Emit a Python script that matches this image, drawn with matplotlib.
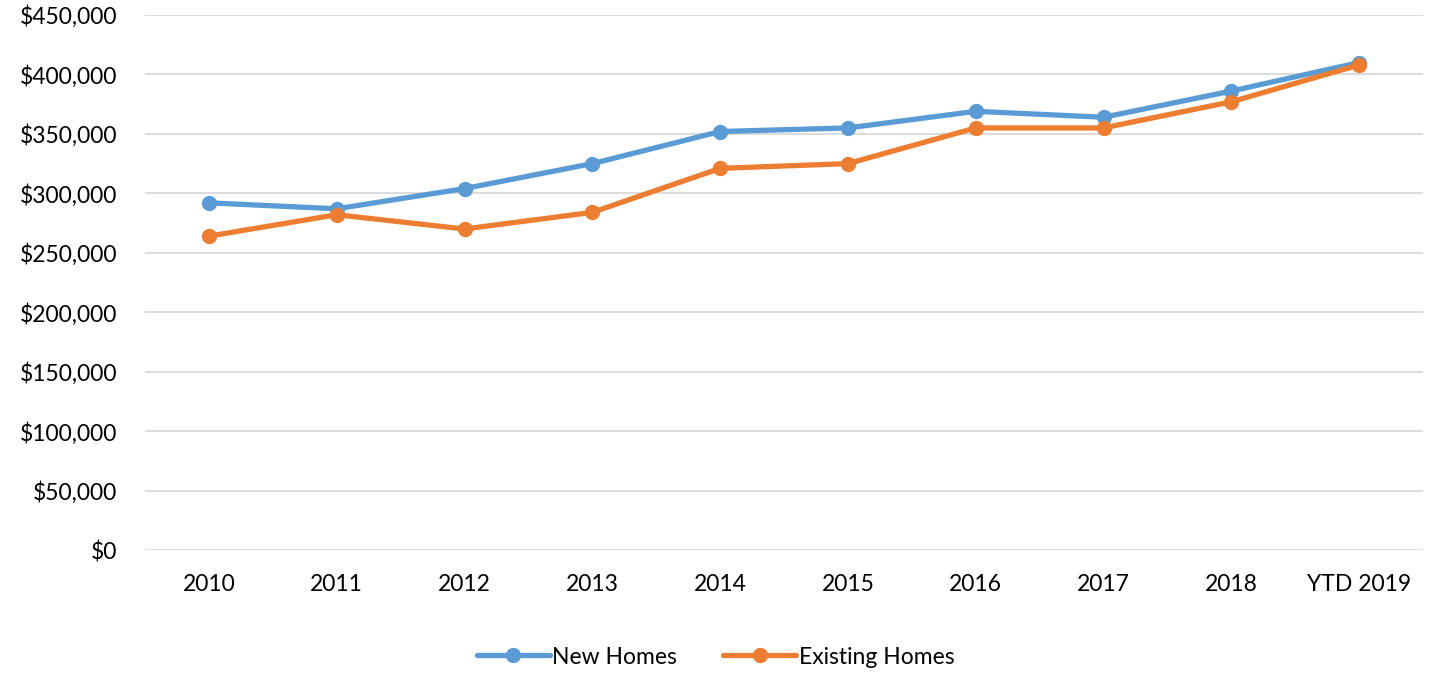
import matplotlib.pyplot as plt
from matplotlib.ticker import FuncFormatter

plt.rcParams['font.family'] = ['Lato', 'DejaVu Sans']

years = ["2010", "2011", "2012", "2013", "2014", "2015", "2016", "2017", "2018", "YTD 2019"]
new_homes = [292000, 287000, 304000, 325000, 352000, 355000, 369000, 364000, 386000, 410000]
existing_homes = [264000, 282000, 270000, 284000, 321000, 325000, 355000, 355000, 377000, 408000]

fig = plt.figure(figsize=(14.31, 6.73), dpi=100)
ax = fig.add_axes([145 / 1431, 1 - 550 / 673, 1278 / 1431, 535 / 673])

x = range(len(years))
ax.plot(x, new_homes, color="#5B9BD5", linewidth=3.8, marker="o", markersize=10,
        label="New Homes", solid_capstyle="round")
ax.plot(x, existing_homes, color="#ED7D31", linewidth=3.8, marker="o", markersize=10,
        label="Existing Homes", solid_capstyle="round")

ax.set_xlim(-0.5, len(years) - 0.5)
ax.set_ylim(0, 450000)
ax.set_yticks(range(0, 450001, 50000))
ax.yaxis.set_major_formatter(FuncFormatter(lambda v, p: f"${v:,.0f}"))
ax.set_xticks(list(x))
ax.set_xticklabels(years)

ax.grid(axis="y", color="#D9D9D9", linewidth=1.3)
ax.set_axisbelow(True)
for s in ["top", "right", "left", "bottom"]:
    ax.spines[s].set_visible(False)
ax.tick_params(axis="both", length=0, labelsize=16.5, colors="#000000")
ax.tick_params(axis="y", pad=20)
ax.tick_params(axis="x", pad=17)

fig.legend(loc="center", bbox_to_anchor=(0.5, 1 - 657 / 673), ncol=2, frameon=False,
           fontsize=16.5, handlelength=3.2, columnspacing=2.0, handletextpad=0.1)

fig.savefig("out.png", dpi=100)
